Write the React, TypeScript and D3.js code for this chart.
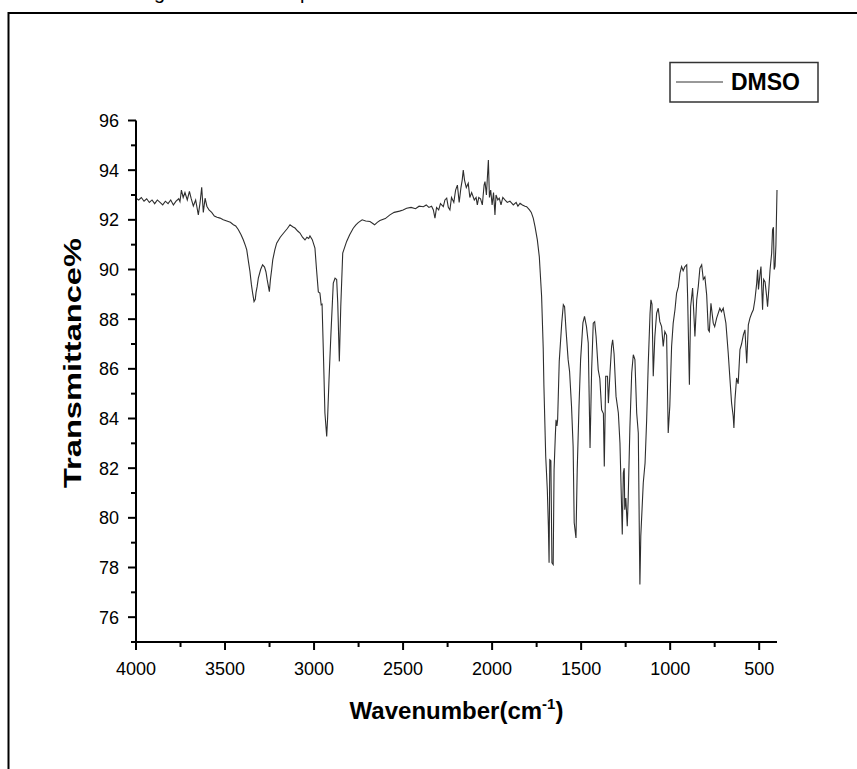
import React from "react";
import * as d3 from "d3";

// FT-IR spectrum
const wavenumber = [
  4000, 3985, 3970, 3955, 3940, 3925, 3910, 3895, 3880, 3865, 3850, 3835, 3820, 3805, 3790, 3775, 3760, 3753, 3745, 3735,
  3725, 3712, 3700, 3690, 3678, 3665, 3650, 3640, 3631, 3622, 3612, 3602, 3590, 3575, 3560, 3545, 3528, 3510, 3490, 3470,
  3453, 3440, 3425, 3410, 3397, 3385, 3378, 3368, 3360, 3352, 3345, 3337, 3330, 3326, 3320, 3313, 3300, 3289, 3278, 3270,
  3263, 3251, 3245, 3238, 3232, 3220, 3210, 3190, 3172, 3150, 3135, 3120, 3107, 3092, 3079, 3065, 3051, 3040, 3030, 3023,
  3010, 2995, 2986, 2976, 2967, 2960, 2955, 2948, 2939, 2929, 2924, 2916, 2905, 2892, 2882, 2873, 2867, 2858, 2850, 2839,
  2817, 2800, 2780, 2765, 2752, 2730, 2710, 2686, 2670, 2660, 2645, 2630, 2600, 2574, 2550, 2520, 2500, 2480, 2455, 2430,
  2410, 2386, 2370, 2355, 2340, 2330, 2321, 2312, 2300, 2290, 2274, 2265, 2255, 2246, 2237, 2228, 2215, 2205, 2195, 2185,
  2175, 2168, 2162, 2155, 2145, 2134, 2125, 2115, 2100, 2090, 2083, 2075, 2065, 2055, 2045, 2040, 2032, 2021, 2015, 2008,
  2000, 1992, 1984, 1978, 1968, 1960, 1950, 1940, 1928, 1915, 1900, 1881, 1865, 1855, 1843, 1830, 1815, 1806, 1790, 1780,
  1769, 1759, 1746, 1735, 1722, 1713, 1709, 1699, 1690, 1684, 1680, 1676, 1670, 1664, 1657, 1652, 1645, 1641, 1636, 1632,
  1623, 1609, 1600, 1593, 1585, 1573, 1565, 1554, 1545, 1539, 1529, 1522, 1512, 1503, 1490, 1481, 1470, 1460, 1454, 1450,
  1446, 1441, 1432, 1424, 1416, 1404, 1395, 1385, 1375, 1370, 1362, 1352, 1347, 1338, 1329, 1323, 1315, 1304, 1291, 1282,
  1272, 1269, 1263, 1258, 1255, 1249, 1241, 1236, 1226, 1216, 1207, 1198, 1188, 1179, 1173, 1170, 1165, 1151, 1141, 1132,
  1123, 1113, 1108, 1102, 1095, 1086, 1076, 1067, 1058, 1048, 1039, 1030, 1020, 1011, 1002, 992, 983, 973, 964, 954,
  945, 936, 927, 917, 907, 902, 892, 885, 874, 861, 851, 842, 833, 823, 814, 805, 795, 786, 780, 771,
  758, 750, 739, 721, 712, 702, 687, 674, 664, 655, 646, 642, 636, 627, 618, 608, 599, 589, 580, 570,
  561, 552, 542, 533, 524, 514, 509, 504, 495, 490, 481, 475, 467, 458, 453, 446, 439, 430, 425, 420,
  416, 411, 406, 400,
];

const transmittance = [
  92.87, 92.8, 92.9, 92.75, 92.85, 92.7, 92.8, 92.65, 92.8, 92.7, 92.6, 92.75, 92.65, 92.8, 92.6, 92.75, 92.85, 92.73, 93.2, 92.9,
  93.1, 92.8, 93.15, 92.85, 92.56, 92.8, 92.2, 92.7, 93.31, 92.3, 92.87, 92.55, 92.4, 92.3, 92.15, 92.1, 92.07, 92.0, 91.95, 91.9,
  91.8, 91.75, 91.6, 91.4, 91.19, 90.95, 90.79, 90.3, 89.92, 89.4, 89.05, 88.71, 88.8, 89.07, 89.3, 89.65, 90.0, 90.19, 90.1, 89.9,
  89.58, 89.11, 89.6, 90.0, 90.39, 90.8, 91.06, 91.3, 91.46, 91.65, 91.8, 91.72, 91.67, 91.55, 91.47, 91.3, 91.19, 91.3, 91.25, 91.35,
  91.2, 90.86, 89.99, 89.1, 89.05, 88.58, 88.6, 86.77, 84.22, 83.28, 84.0, 85.56, 87.44, 89.45, 89.65, 89.6, 88.66, 86.3, 88.5, 90.66,
  91.13, 91.4, 91.66, 91.8, 91.89, 92.0, 91.95, 91.93, 91.85, 91.8, 91.9, 91.97, 92.05, 92.2, 92.3, 92.35, 92.4, 92.47, 92.5, 92.45,
  92.55, 92.53, 92.6, 92.5, 92.55, 92.4, 92.07, 92.5, 92.4, 92.65, 92.53, 92.8, 92.87, 92.5, 92.4, 92.9, 92.7, 93.2, 93.4, 92.7,
  93.3, 93.6, 94.0, 93.6, 93.3, 93.47, 92.9, 93.1, 92.8, 92.9, 92.6, 92.9, 92.85, 92.6, 93.4, 93.54, 93.0, 94.41, 92.9, 93.2,
  92.6, 93.1, 92.2, 93.0, 92.8, 92.87, 92.6, 92.9, 92.8, 92.7, 92.75, 92.6, 92.7, 92.55, 92.67, 92.6, 92.55, 92.53, 92.4, 92.3,
  92.07, 91.73, 91.19, 90.52, 88.91, 86.84, 85.29, 82.48, 81.14, 79.66, 78.19, 82.34, 82.3, 78.19, 78.12, 81.94, 83.3, 83.95, 83.7, 83.95,
  86.3, 87.84, 88.58, 88.5, 87.57, 86.37, 85.9, 84.49, 82.88, 79.8, 79.19, 81.94, 84.49, 86.37, 87.85, 88.11, 87.7, 87.04, 84.49, 82.81,
  84.2, 85.96, 87.84, 87.9, 87.3, 85.96, 85.6, 84.35, 84.2, 82.07, 85.7, 85.7, 84.62, 85.83, 86.9, 87.17, 86.6, 84.89, 84.22, 83.01,
  80.2, 79.33, 81.81, 82.0, 80.33, 80.8, 79.66, 80.7, 83.68, 85.83, 86.57, 86.37, 84.22, 83.42, 79.26, 77.32, 79.26, 81.41, 82.21, 83.95,
  86.23, 88.24, 88.78, 88.6, 85.7, 87.3, 88.24, 88.44, 87.9, 87.7, 86.9, 87.5, 87.35, 83.42, 84.5, 86.9, 87.84, 88.38, 89.05, 89.3,
  89.85, 90.12, 89.95, 90.12, 90.19, 88.91, 85.36, 88.51, 89.25, 87.3, 88.78, 89.32, 90.05, 90.19, 89.6, 89.7, 88.98, 87.57, 87.5, 88.64,
  87.84, 87.7, 88.04, 88.44, 88.3, 88.44, 87.84, 86.64, 85.56, 84.62, 84.09, 83.62, 84.76, 85.63, 85.4, 86.77, 87.0, 87.37, 87.57, 86.23,
  87.77, 88.04, 88.24, 88.38, 88.78, 89.45, 89.99, 89.2, 89.85, 90.12, 88.38, 89.6, 89.5, 88.91, 88.5, 89.2, 89.99, 90.66, 91.6, 91.7,
  90.0, 90.12, 91.0, 93.2,
];

const xMajorTicks = [4000, 3500, 3000, 2500, 2000, 1500, 1000, 500];
const xMinorTicks = [3750, 3250, 2750, 2250, 1750, 1250, 750];
const yMajorTicks = [76, 78, 80, 82, 84, 86, 88, 90, 92, 94, 96];
const yMinorTicks = [75, 77, 79, 81, 83, 85, 87, 89, 91, 93, 95];
const seriesName = "DMSO";

const W = 857;
const H = 769;
const font = "'Liberation Sans', Arial, sans-serif";

export default function App() {
  const x = d3.scaleLinear().domain([4000, 400]).range([136, 777]);
  const y = d3.scaleLinear().domain([75, 96]).range([642, 120.5]);

  const points = wavenumber.map((w, i) => [w, transmittance[i]] as [number, number]);
  const line = d3
    .line<[number, number]>()
    .x((d) => x(d[0]))
    .y((d) => y(d[1]));

  const x0 = x.range()[0];
  const x1 = x.range()[1];
  const y0 = y.range()[0];
  const y1 = y.range()[1];

  return (
    <svg
      width={W}
      height={H}
      style={{ position: "absolute", left: 0, top: 0, background: "#fff" }}
      fontFamily={font}
    >
      {/* bits of the caption that sit above the frame, cut off as in the original */}
      <text x={154} y={-1} fontSize={20}>g</text>
      <text x={300} y={-1} fontSize={20}>p</text>

      {/* outer frame, runs off the right and bottom */}
      <rect x={8.5} y={13} width={1000} height={1000} fill="none" stroke="#000" strokeWidth={2} />

      {/* spectrum */}
      <path d={line(points) || ""} fill="none" stroke="#2e2e2e" strokeWidth={1.1} />

      {/* axes */}
      <line x1={x0} x2={x1} y1={y0} y2={y0} stroke="#000" strokeWidth={2} />
      <line x1={x0} x2={x0} y1={y0 + 1} y2={y1} stroke="#000" strokeWidth={2} />

      {xMajorTicks.map((t) => (
        <g key={"xM" + t}>
          <line x1={x(t)} x2={x(t)} y1={y0} y2={y0 + 8} stroke="#000" strokeWidth={2} />
          <text x={x(t)} y={675} fontSize={18} textAnchor="middle">{t}</text>
        </g>
      ))}
      {xMinorTicks.map((t) => (
        <line key={"xm" + t} x1={x(t)} x2={x(t)} y1={y0} y2={y0 + 5} stroke="#000" strokeWidth={2} />
      ))}
      {yMajorTicks.map((t) => (
        <g key={"yM" + t}>
          <line x1={x0 - 8} x2={x0} y1={y(t)} y2={y(t)} stroke="#000" strokeWidth={2} />
          <text x={119} y={y(t)} dy="0.36em" fontSize={18} textAnchor="end">{t}</text>
        </g>
      ))}
      {yMinorTicks.map((t) => (
        <line key={"ym" + t} x1={x0 - 5} x2={x0} y1={y(t)} y2={y(t)} stroke="#000" strokeWidth={2} />
      ))}

      {/* axis titles */}
      <text x={(x0 + x1) / 2} y={719} fontSize={24} fontWeight="bold" textAnchor="middle">
        Wavenumber(cm<tspan dy={-10} fontSize={15}>-1</tspan><tspan dy={10}>)</tspan>
      </text>
      <text
        transform="translate(81,363) rotate(-90)"
        fontSize={24}
        fontWeight="bold"
        textAnchor="middle"
        textLength={250}
        lengthAdjust="spacingAndGlyphs"
      >
        Transmittance%
      </text>

      {/* legend */}
      <rect x={670} y={62.5} width={148} height={39.5} fill="#fff" stroke="#333" strokeWidth={1.5} />
      <line x1={676} x2={723} y1={82} y2={82} stroke="#333" strokeWidth={1} />
      <text x={731} y={90} fontSize={23} fontWeight="bold">{seriesName}</text>
    </svg>
  );
}
